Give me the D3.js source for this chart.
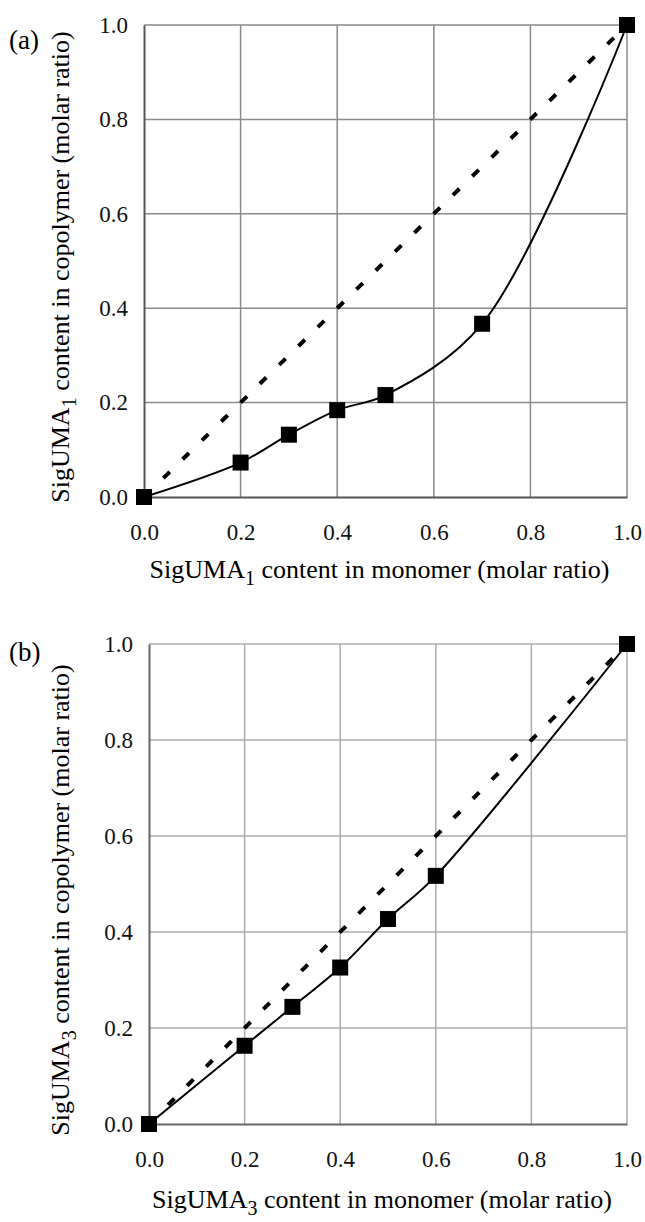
<!DOCTYPE html>
<html>
<head>
<meta charset="utf-8">
<script src="https://cdn.jsdelivr.net/npm/d3@7"></script>
<style>
  body { margin: 0; background: #fff; }
  svg { display: block; font-family: "Liberation Serif", "Times New Roman", serif; }
</style>
</head>
<body>
<div id="chart"></div>
<script>
// values
const tickValues = [0, 0.2, 0.4, 0.6, 0.8, 1.0];
const idealLine = [0, 1];

const monomerA = [0, 0.2, 0.3, 0.4, 0.5, 0.7, 1.0];
const copolymerA = [0, 0.073, 0.132, 0.184, 0.216, 0.367, 1.0];

const monomerB = [0, 0.2, 0.3, 0.4, 0.5, 0.6, 1.0];
const copolymerB = [0, 0.163, 0.244, 0.326, 0.427, 0.517, 1.0];

const W = 645, H = 1222;

const svg = d3.select('#chart')
    .append('svg')
    .attr('width', W)
    .attr('height', H);

svg.append('rect').attr('width', W).attr('height', H).attr('fill', '#fff');

function drawPanel(p) {
    let x = d3.scaleLinear().domain([0, 1]).range([p.left, p.right]);
    let y = d3.scaleLinear().domain([0, 1]).range([p.bottom, p.top]);
    let g = svg.append('g');

    // grid
    g.append('g').selectAll('line')
        .data(tickValues.slice(1))
        .join('line')
        .attr('x1', d => x(d)).attr('x2', d => x(d))
        .attr('y1', p.top).attr('y2', p.bottom)
        .attr('stroke', p.gridColor).attr('stroke-width', 1.5);
    g.append('g').selectAll('line')
        .data(tickValues.slice(1))
        .join('line')
        .attr('x1', p.left).attr('x2', p.right)
        .attr('y1', d => y(d)).attr('y2', d => y(d))
        .attr('stroke', p.gridColor).attr('stroke-width', 1.5);

    // axes
    let xAxis = g.append('g')
        .attr('transform', 'translate(0,' + p.bottom + ')')
        .call(d3.axisBottom(x).tickValues(tickValues).tickFormat(d3.format('.1f'))
            .tickSize(0).tickPadding(27));
    let yAxis = g.append('g')
        .attr('transform', 'translate(' + p.left + ',0)')
        .call(d3.axisLeft(y).tickValues(tickValues).tickFormat(d3.format('.1f'))
            .tickSize(0).tickPadding(16));
    [xAxis, yAxis].forEach(a => {
        a.select('.domain').attr('stroke', p.axisColor).attr('stroke-width', 2);
        a.selectAll('text')
            .attr('font-family', '"Liberation Serif", serif')
            .attr('font-size', 23)
            .attr('fill', '#111');
    });

    // 1:1 line
    let line = d3.line()
        .x(d => x(d))
        .y(d => y(d));
    g.append('path')
        .datum(idealLine)
        .attr('d', line)
        .attr('fill', 'none')
        .attr('stroke', '#000')
        .attr('stroke-width', 4)
        .attr('stroke-dasharray', '9,18');

    // measured curve (smoothed like the spreadsheet)
    let pts = p.xs.map((v, i) => [v, p.ys[i]]);
    let smooth = d3.line()
        .curve(d3.curveCatmullRom.alpha(0.5))
        .x(d => x(d[0]))
        .y(d => y(d[1]));
    g.append('path')
        .datum(pts)
        .attr('d', smooth)
        .attr('fill', 'none')
        .attr('stroke', '#000')
        .attr('stroke-width', 2);

    let s = 16;
    g.selectAll('rect.pt')
        .data(pts)
        .join('rect')
        .attr('class', 'pt')
        .attr('x', d => x(d[0]) - s / 2)
        .attr('y', d => y(d[1]) - s / 2)
        .attr('width', s).attr('height', s)
        .attr('fill', '#000');

    // panel letter
    svg.append('text')
        .attr('x', 9).attr('y', p.letterY)
        .attr('font-size', 27)
        .text(p.letter);

    // x title
    let xt = svg.append('text')
        .attr('x', (p.left + p.right) / 2 - 6)
        .attr('y', p.xTitleY)
        .attr('text-anchor', 'middle')
        .attr('font-size', 26);
    xt.append('tspan').text('SigUMA');
    xt.append('tspan').attr('dy', 7).attr('font-size', 20).text(p.sub);
    xt.append('tspan').attr('dy', -7).text(' content in monomer (molar ratio)');

    // y title
    let yt = svg.append('text')
        .attr('transform', 'translate(69,' + p.yTitleC + ') rotate(-90)')
        .attr('text-anchor', 'middle')
        .attr('font-size', 26);
    yt.append('tspan').text('SigUMA');
    yt.append('tspan').attr('dy', 7).attr('font-size', 20).text(p.sub);
    yt.append('tspan').attr('dy', -7).text(' content in copolymer (molar ratio)');
}

drawPanel({
    left: 144, right: 627, top: 25, bottom: 497,
    xs: monomerA, ys: copolymerA,
    gridColor: '#8a8a8a', axisColor: '#555',
    letter: '(a)', letterY: 49, sub: '1',
    xTitleY: 578, yTitleC: 267
});

drawPanel({
    left: 149, right: 627, top: 644, bottom: 1124,
    xs: monomerB, ys: copolymerB,
    gridColor: '#ababab', axisColor: '#666',
    letter: '(b)', letterY: 661, sub: '3',
    xTitleY: 1208, yTitleC: 900
});
</script>
</body>
</html>
